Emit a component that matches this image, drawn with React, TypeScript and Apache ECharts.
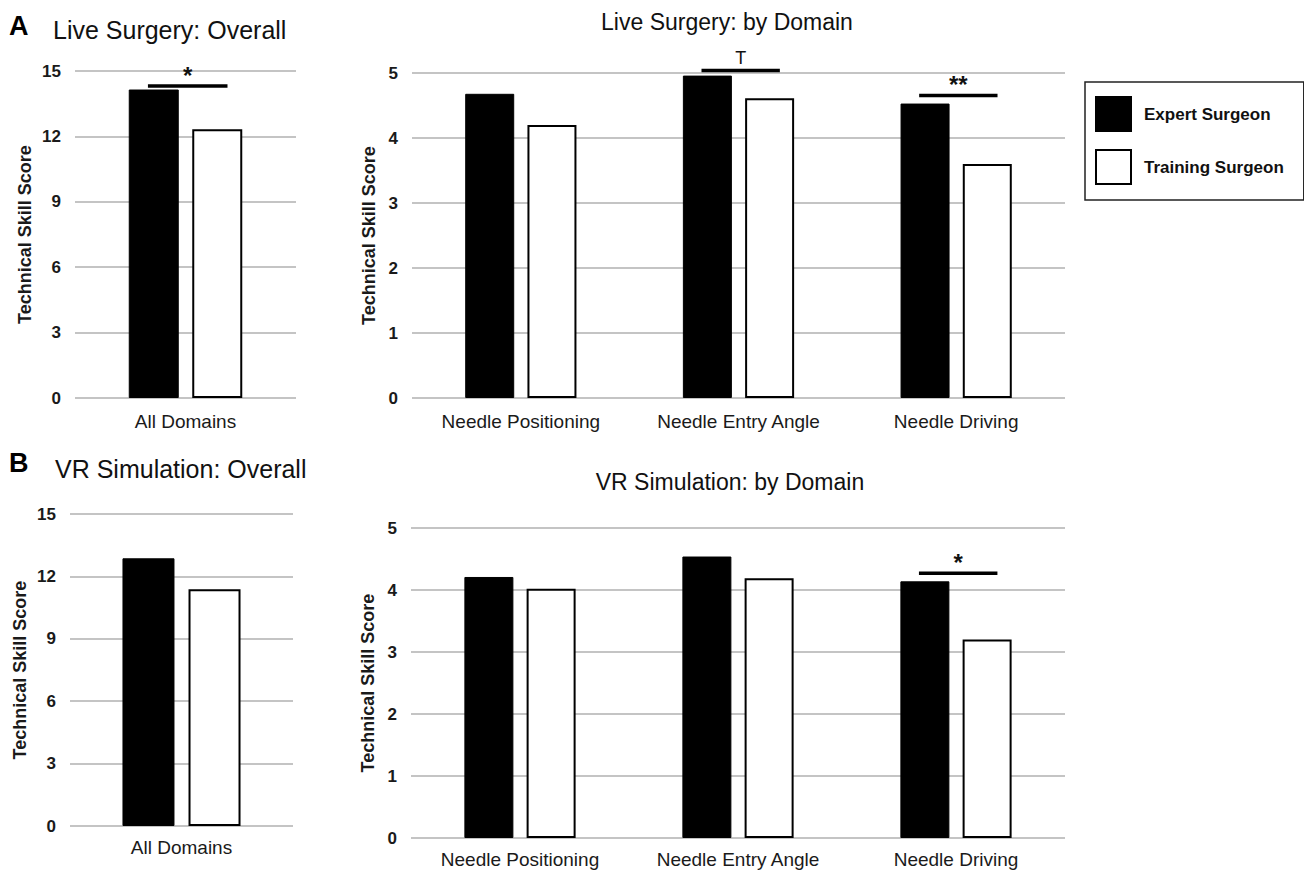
import React, { useEffect, useRef } from "react";
import * as echarts from "echarts";

const categoriesOverall = ["All Domains"];
const categoriesDomain = ["Needle Positioning", "Needle Entry Angle", "Needle Driving"];
const seriesNames = ["Expert Surgeon", "Training Surgeon"];

const liveOverallExpert = [14.15];
const liveOverallTraining = [12.33];
const liveDomainExpert = [4.68, 4.96, 4.53];
const liveDomainTraining = [4.2, 4.61, 3.6];
const vrOverallExpert = [12.87];
const vrOverallTraining = [11.38];
const vrDomainExpert = [4.21, 4.54, 4.14];
const vrDomainTraining = [4.02, 4.19, 3.2];

// significance markers: [category index, bar height, label]
const liveOverallSig: [number, number, string][] = [[0, 14.31, "*"]];
const liveDomainSig: [number, number, string][] = [
  [1, 5.04, "T"],
  [2, 4.655, "**"],
];
const vrOverallSig: [number, number, string][] = [];
const vrDomainSig: [number, number, string][] = [[2, 4.27, "*"]];

const FONT = "Liberation Sans, Arial, sans-serif";

export default function App() {
  const ref = useRef<HTMLDivElement>(null);
  useEffect(() => {
    if (!ref.current) return;
    const chart = echarts.init(ref.current, null, { renderer: "svg" });

    const grids = [
      { left: 75, top: 71, width: 221, height: 327 },
      { left: 412, top: 73, width: 653, height: 325 },
      { left: 70, top: 514, width: 223, height: 312 },
      { left: 411, top: 528, width: 654, height: 310 },
    ];
    const cats = [categoriesOverall, categoriesDomain, categoriesOverall, categoriesDomain];
    const yMax = [15, 5, 15, 5];
    const yInt = [3, 1, 3, 1];
    const nameGaps = [41, 30, 41, 29];
    const labelMargins = [14, 14, 12, 12];
    const expert = [liveOverallExpert, liveDomainExpert, vrOverallExpert, vrDomainExpert];
    const training = [liveOverallTraining, liveDomainTraining, vrOverallTraining, vrDomainTraining];
    const sigs = [liveOverallSig, liveDomainSig, vrOverallSig, vrDomainSig];
    const barW = [50, 49, 52, 49];

    const xAxis = cats.map((c, i) => ({
      type: "category",
      gridIndex: i,
      data: c,
      axisTick: { show: false },
      axisLine: { show: false },
      axisLabel: { color: "#1a1a1a", fontSize: 19, fontFamily: FONT, margin: labelMargins[i] },
    }));
    const yAxis = cats.map((_, i) => ({
      type: "value",
      gridIndex: i,
      min: 0,
      max: yMax[i],
      interval: yInt[i],
      name: "Technical Skill Score",
      nameLocation: "middle",
      nameGap: nameGaps[i],
      nameTextStyle: { color: "#1a1a1a", fontSize: 18, fontWeight: "bold", fontFamily: FONT },
      axisLine: { show: false },
      axisTick: { show: false },
      axisLabel: { color: "#1a1a1a", fontSize: 17, fontWeight: "bold", fontFamily: FONT, margin: 14 },
      splitLine: { lineStyle: { color: "#c4c4c4", width: 2 } },
    }));

    const series: any[] = [];
    cats.forEach((_, i) => {
      series.push({
        type: "bar",
        name: seriesNames[0],
        xAxisIndex: i,
        yAxisIndex: i,
        data: expert[i],
        barWidth: barW[i],
        barGap: "27%",
        itemStyle: { color: "#000000", borderColor: "#000000", borderWidth: 1 },
      });
      series.push({
        type: "bar",
        name: seriesNames[1],
        xAxisIndex: i,
        yAxisIndex: i,
        data: training[i],
        barWidth: barW[i],
        barGap: "27%",
        itemStyle: { color: "#ffffff", borderColor: "#000000", borderWidth: 2 },
      });
      const sig = sigs[i];
      if (sig.length) {
        series.push({
          type: "custom",
          xAxisIndex: i,
          yAxisIndex: i,
          data: sig.map((s) => [s[0], s[1]]),
          encode: { x: 0, y: 1 },
          z: 10,
          renderItem: (params: any, api: any) => {
            const idx = api.value(0);
            const v = api.value(1);
            const p = api.coord([idx, v]);
            const band = api.size([1, 0])[0];
            const x1 = p[0] - 0.17 * band;
            const x2 = p[0] + 0.19 * band;
            const label = sig[params.dataIndex][2];
            const isT = label === "T";
            return {
              type: "group",
              children: [
                {
                  type: "line",
                  shape: { x1, y1: p[1], x2, y2: p[1] },
                  style: { stroke: "#000", lineWidth: 3.5 },
                },
                {
                  type: "text",
                  style: {
                    text: label,
                    x: (x1 + x2) / 2,
                    y: isT ? p[1] - 3 : p[1] + 1,
                    align: "center",
                    verticalAlign: "bottom",
                    fontSize: isT ? 18 : 24,
                    fontWeight: isT ? "normal" : "bold",
                    fontFamily: FONT,
                    fill: "#111",
                  },
                },
              ],
            };
          },
        });
      }
    });

    const titleStyle = { color: "#111", fontSize: 25, fontWeight: "normal", fontFamily: FONT };
    const domainTitleStyle = { ...titleStyle, fontSize: 23 };
    const letterStyle = { color: "#000", fontSize: 27, fontWeight: "bold", fontFamily: FONT };

    chart.setOption({
      animation: false,
      title: [
        { text: "A", left: 9, top: 12, textStyle: letterStyle, padding: 0 },
        { text: "Live Surgery: Overall", left: 53, top: 17, textStyle: titleStyle, padding: 0 },
        { text: "Live Surgery: by Domain", left: 727, textAlign: "center", top: 10, textStyle: domainTitleStyle, padding: 0 },
        { text: "B", left: 9, top: 449, textStyle: letterStyle, padding: 0 },
        { text: "VR Simulation: Overall", left: 55, top: 456, textStyle: titleStyle, padding: 0 },
        { text: "VR Simulation: by Domain", left: 730, textAlign: "center", top: 470, textStyle: domainTitleStyle, padding: 0 },
      ],
      legend: {
        data: seriesNames,
        orient: "vertical",
        left: 1085,
        top: 82,
        icon: "rect",
        itemWidth: 35,
        itemHeight: 34,
        itemGap: 17,
        padding: [14, 20, 15, 10],
        borderColor: "#222",
        borderWidth: 1.5,
        selectedMode: false,
        textStyle: { color: "#111", fontSize: 17, fontWeight: "bold", fontFamily: FONT, padding: [0, 0, 0, 8] },
      },
      grid: grids,
      xAxis,
      yAxis,
      series,
    });
    return () => chart.dispose();
  }, []);
  return (
    <div
      ref={ref}
      style={{ position: "fixed", left: 0, top: 0, width: 1304, height: 870, background: "#fff" }}
    />
  );
}
